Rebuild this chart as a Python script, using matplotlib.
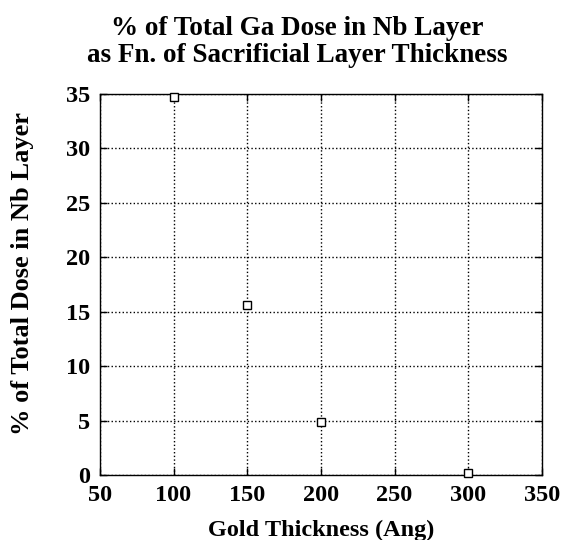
import matplotlib.pyplot as plt

# gold thickness (Ang) vs % of total Ga dose in Nb layer
gold_thickness = [100, 150, 200, 300]
dose_percent = [34.7, 15.6, 4.9, 0.2]

x_ticks = [50, 100, 150, 200, 250, 300, 350]
y_ticks = [0, 5, 10, 15, 20, 25, 30, 35]

plt.rcParams['font.family'] = ['Liberation Serif', 'DejaVu Serif']
plt.rcParams['font.weight'] = 'bold'

fig = plt.figure(figsize=(5.61, 5.40), dpi=100)
ax = fig.add_axes([0.178, 0.120, 0.788, 0.706])

ax.plot(gold_thickness, dose_percent, linestyle='none', marker='s',
        markersize=6, markerfacecolor='white', markeredgecolor='black',
        markeredgewidth=1.0, zorder=3, clip_on=False)

ax.set_xlim(50, 350)
ax.set_ylim(0, 35)
ax.set_xticks(x_ticks)
ax.set_yticks(y_ticks)
ax.tick_params(direction='in', length=5, width=1, top=True, right=True,
               labelsize=17.5, pad=7)
for lab in ax.get_xticklabels() + ax.get_yticklabels():
    lab.set_fontweight('bold')

ax.grid(True, linestyle=':', color='black', linewidth=1.0)
for sp in ax.spines.values():
    sp.set_linewidth(1.0)

ax.set_xlabel('Gold Thickness (Ang)', fontsize=17.5, fontweight='bold', labelpad=10)
ax.set_ylabel('% of Total Dose in Nb Layer', fontsize=19, fontweight='bold')
ax.yaxis.set_label_coords(-0.148, 0.53)
fig.text(0.529, 0.971, '% of Total Ga Dose in Nb Layer\nas Fn. of Sacrificial Layer Thickness',
         ha='center', va='top', fontsize=19.5, fontweight='bold', linespacing=1.12)

fig.savefig('out.png', dpi=100)
